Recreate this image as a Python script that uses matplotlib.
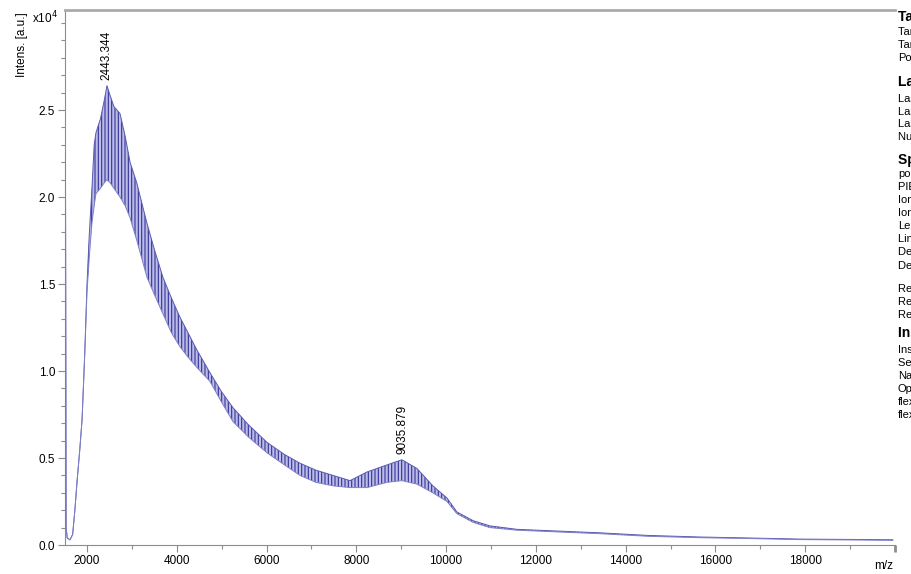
import numpy as np
import matplotlib.pyplot as plt
from matplotlib.ticker import MultipleLocator

plt.rcParams['font.family'] = ['Liberation Sans', 'DejaVu Sans']
plt.rcParams['hatch.linewidth'] = 0.8

# envelope of the spectrum (intensity in units of 1e4)
mz = [1520, 1535, 1560, 1620, 1680, 1730, 1780, 1840, 1890, 1950, 2000, 2050,
      2110, 2160, 2200, 2300, 2380, 2445, 2520, 2600, 2735, 2850, 2960, 3110,
      3335, 3500, 3690, 3880, 4070, 4250, 4450, 4740, 5000, 5250, 5600, 6010,
      6400, 6745, 7100, 7480, 7860, 8240, 8680, 9015, 9350, 9705, 10020, 10240,
      10600, 10975, 11580, 12500, 13425, 14500, 15650, 16800, 17880, 19000, 19950]
upper = [2.25, 0.10, 0.04, 0.03, 0.06, 0.20, 0.37, 0.55, 0.72, 1.10, 1.50, 1.78,
         2.05, 2.30, 2.37, 2.45, 2.55, 2.64, 2.58, 2.52, 2.48, 2.35, 2.20, 2.08,
         1.85, 1.70, 1.54, 1.42, 1.31, 1.22, 1.12, 0.99, 0.88, 0.79, 0.69, 0.59,
         0.52, 0.47, 0.43, 0.40, 0.37, 0.42, 0.46, 0.49, 0.44, 0.34, 0.27, 0.19,
         0.14, 0.11, 0.09, 0.08, 0.07, 0.055, 0.046, 0.04, 0.034, 0.032, 0.03]
lower = [2.25, 0.10, 0.04, 0.03, 0.06, 0.20, 0.37, 0.55, 0.72, 1.10, 1.45, 1.65,
         1.85, 1.95, 2.02, 2.05, 2.08, 2.10, 2.08, 2.05, 2.00, 1.95, 1.88, 1.75,
         1.54, 1.44, 1.33, 1.22, 1.14, 1.08, 1.02, 0.94, 0.82, 0.71, 0.62, 0.53,
         0.46, 0.40, 0.36, 0.34, 0.33, 0.33, 0.36, 0.37, 0.35, 0.30, 0.25, 0.18,
         0.13, 0.10, 0.085, 0.075, 0.065, 0.05, 0.042, 0.037, 0.031, 0.029, 0.027]

peak_mz = [2443.344, 9035.879]
peak_int = [2.64, 0.49]

x_ticks = [2000, 4000, 6000, 8000, 10000, 12000, 14000, 16000, 18000, 20000]
x_labels = ['2000', '4000', '6000', '8000', '10000', '12000', '14000', '16000', '18000', '']
y_ticks = [0, 0.5, 1.0, 1.5, 2.0, 2.5]
y_labels = ['0.0', '0.5', '1.0', '1.5', '2.0', '2.5']

# info panel on the right (cut off by the figure edge, as in the original)
info_lines = [
    ('Target Info', True), ('Target Plate', False), ('Target Name', False), ('Position', False),
    ('Laser Info', True), ('Laser Power', False), ('Laser Offset', False), ('Laser Range', False),
    ('Number of Shots', False),
    ('Spectrometer Info', True), ('polarity', False), ('PIE Delay', False), ('Ion Source 1', False),
    ('Ion Source 2', False), ('Lens', False), ('Linear Detector', False), ('Detection Gain', False),
    ('Detector Mode', False), ('', False),
    ('Reflector 1', False), ('Reflector 2', False), ('Reflector Detector', False),
    ('Instrument Info', True), ('Instrument', False), ('Serial Number', False), ('Name', False),
    ('Operator', False), ('flexControl', False), ('flexAnalysis', False),
]
info_y = [17, 32, 45, 58, 82, 99, 112, 124, 137, 160, 174, 187, 200, 213, 226, 239,
          252, 266, 278, 289, 302, 315, 333, 350, 363, 376, 389, 402, 415]

dark = '#34349a'
light = '#bcbce6'
grey = '#8c8c8c'

fig = plt.figure(figsize=(9.11, 5.74), dpi=100)
ax = fig.add_axes([65 / 911, 1 - 545 / 574, 830 / 911, 535 / 574])

ax.fill_between(mz, lower, upper, facecolor=light, edgecolor=dark,
                hatch='|||||', linewidth=0, zorder=2)
ax.plot(mz, upper, color='#5a5ab4', lw=0.7, zorder=3)
ax.plot(mz, lower, color='#8080c8', lw=0.7, zorder=3)

for m, v in zip(peak_mz, peak_int):
    ax.annotate(f'{m:.3f}', (m, v), xytext=(0, 4), textcoords='offset points',
                rotation=90, ha='center', va='bottom', fontsize=8.5)

ax.set_xlim(1510, 20000)
ax.set_ylim(0, 3.075)

ax.set_xticks(x_ticks)
ax.set_xticklabels(x_labels)
ax.xaxis.set_minor_locator(MultipleLocator(1000))
ax.set_yticks(y_ticks)
ax.set_yticklabels(y_labels)
ax.yaxis.set_minor_locator(MultipleLocator(0.1))
ax.tick_params(which='both', direction='out', color=grey, labelsize=8.5, pad=2)
ax.tick_params(which='major', length=5, width=0.8)
ax.tick_params(which='minor', length=3, width=0.8)
ax.xaxis.get_major_ticks()[-1].tick1line.set_markeredgewidth(2)

ax.spines['right'].set_visible(False)
ax.spines['top'].set_color('#aaaaaa')
ax.spines['top'].set_linewidth(2)
for side in ['left', 'bottom']:
    ax.spines[side].set_color(grey)
    ax.spines[side].set_linewidth(0.8)

fig.text(22 / 911, 1 - 45 / 574, 'Intens. [a.u.]', rotation=90, ha='center',
         va='center', fontsize=8.5)
fig.text(32 / 911, 1 - 18 / 574, r'x10$^4$', ha='left', va='center', fontsize=8.5)
fig.text(884 / 911, 1 - 566 / 574, 'm/z', ha='center', va='center', fontsize=8.5)

for (txt, bold), y in zip(info_lines, info_y):
    fig.text(898 / 911, 1 - y / 574, txt, ha='left', va='center',
             fontsize=10 if bold else 8, fontweight='bold' if bold else 'normal')

fig.savefig('out.png', dpi=100)
